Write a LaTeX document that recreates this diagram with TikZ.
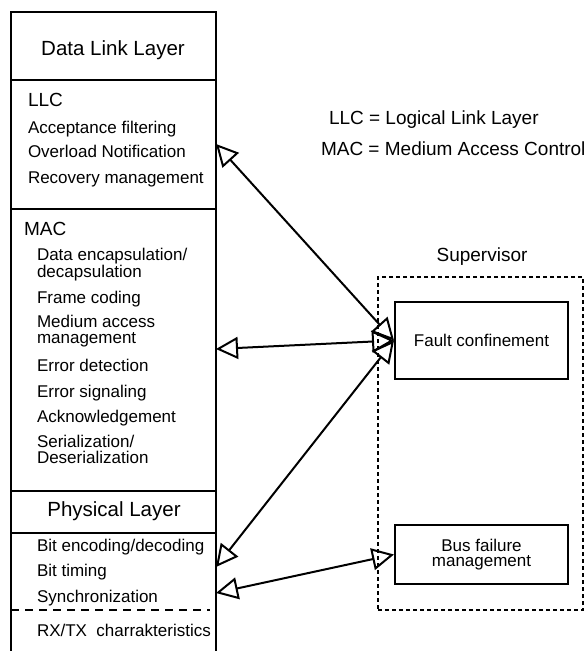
\documentclass[tikz,border=0pt]{standalone}
\usepackage{fontspec}
\setmainfont{Liberation Sans}
\usetikzlibrary{arrows.meta}
\newcommand{\headfont}{\fontsize{20.5}{24}\selectfont}
\newcommand{\subfont}{\fontsize{19}{22}\selectfont}
\newcommand{\itemfont}{\fontsize{17}{15.5}\selectfont}

\begin{document}
\begin{tikzpicture}[x=1pt, y=-1pt, line width=2pt,
    every node/.style={align=center, inner sep=0pt},
    layer/.style={draw, outer sep=0pt, minimum width=205pt},
    func/.style={draw, minimum width=173pt, font=\itemfont},
    head/.style={anchor=base, font=\headfont},
    sub/.style={anchor=base west, font=\subfont},
    item/.style={anchor=base west, align=left, font=\itemfont},
    link/.style={{Triangle[open,length=22pt,width=22pt]}-{Triangle[open,length=22pt,width=22pt]}}]
\useasboundingbox (0,0) rectangle (587,651);

\node[layer, minimum height=68pt] (dll) at (113.5,46) {};
\node[layer, minimum height=129pt] (llc) at (113.5,144.5) {};
\node[layer, minimum height=282pt] (mac) at (113.5,350) {};
\node[layer, minimum height=42pt] (phy) at (113.5,512) {};
\coordinate (bottom) at (0,651);
\draw (phy.south west) -- (phy.south west |- bottom);
\draw (phy.south east) -- (phy.south east |- bottom);
\draw[dash pattern=on 8pt off 6pt] (11,610) -- (210,610);

\node[head] (dlltxt) at (113,55) {Data Link Layer};
\node[sub] (llctxt) at (27,106) {LLC};
\node[item] (accept) at (27,133) {Acceptance filtering};
\node[item] (overload) at (27,157) {Overload Notification};
\node[item] (recovery) at (27,183) {Recovery management};

\node[sub] (mactxt) at (23,235) {MAC};
\node[item] (encap) at (36,277) {Data encapsulation/\\decapsulation};
\node[item] (framing) at (36,303) {Frame coding};
\node[item] (access) at (36,343) {Medium access\\management};
\node[item] (errdet) at (36,371) {Error detection};
\node[item] (errsig) at (36,397) {Error signaling};
\node[item] (ack) at (36,422) {Acknowledgement};
\node[item] (serial) at (36,463) {Serialization/\\Deserialization};

\node[head] (phytxt) at (114,516) {Physical Layer};
\node[item] (bitenc) at (36,551) {Bit encoding/decoding};
\node[item] (bittime) at (36,576) {Bit timing};
\node[item] (sync) at (36,602) {Synchronization};
\node[item] (rxtx) at (36,636) {RX/TX\ \ charrakteristics};

\node[sub] (llcdef) at (328,124) {LLC = Logical Link Layer};
\node[sub] (macdef) at (320,155) {MAC = Medium Access Control};

\node[draw, dash pattern=on 4pt off 3pt, minimum width=205pt, minimum height=333pt] (sup) at (480.5,443.5) {};
\node[anchor=base, font=\subfont] (suptxt) at (482,261) {Supervisor};
\node[func, minimum height=77pt] (fault) at (481.5,340.5) {Fault confinement};
\node[func, minimum height=59pt] (bus) at (481.5,554.5) {Bus failure\\management};

\coordinate (llcR) at (216,144);
\coordinate (macR) at (216,349);
\coordinate (phyR1) at (216,567);
\coordinate (phyR2) at (216,593);
\draw[link] (llcR) -- (fault.west);
\draw[link] (macR) -- (fault.west);
\draw[link] (phyR1) -- (fault.west);
\draw[link] (phyR2) -- (bus.west);
\end{tikzpicture}
\end{document}
